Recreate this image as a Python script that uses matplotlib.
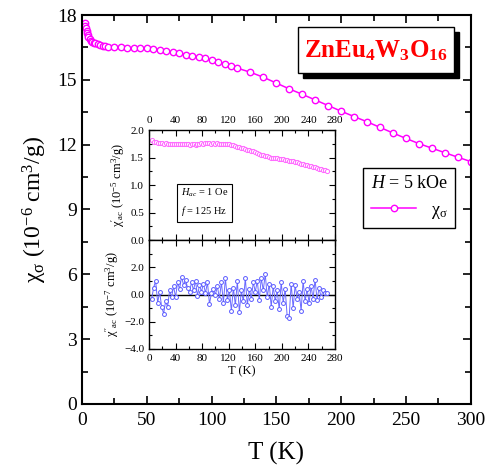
import matplotlib
matplotlib.use("Agg")
import matplotlib.pyplot as plt
from matplotlib.patches import Rectangle
from matplotlib.ticker import MultipleLocator

plt.rcParams['font.family'] = ['Liberation Serif', 'DejaVu Serif']
plt.rcParams['mathtext.fontset'] = 'custom'
plt.rcParams['mathtext.rm'] = 'Liberation Serif'
plt.rcParams['mathtext.it'] = 'Liberation Serif:italic'
plt.rcParams['mathtext.bf'] = 'Liberation Serif:bold'

# dc susceptibility, H = 5 kOe
T_dc = [2, 2.5, 3, 3.5, 4, 4.5, 5, 6, 7, 8, 9, 10, 12, 14, 16, 18, 20,
        25, 30, 35, 40, 45, 50, 55, 60, 65, 70, 75, 80, 85, 90, 95, 100,
        105, 110, 115, 120, 130, 140, 150, 160, 170, 180, 190, 200, 210,
        220, 230, 240, 250, 260, 270, 280, 290, 300]
chi_dc = [17.62, 17.5, 17.38, 17.27, 17.18, 17.08, 17.0, 16.9, 16.82, 16.76,
          16.72, 16.69, 16.64, 16.6, 16.57, 16.55, 16.53,
          16.51, 16.5, 16.49, 16.48, 16.47, 16.46, 16.43, 16.39, 16.34, 16.28,
          16.22, 16.17, 16.12, 16.06, 15.99, 15.91,
          15.82, 15.74, 15.65, 15.54, 15.35, 15.12, 14.85, 14.58, 14.33, 14.07,
          13.81, 13.55, 13.3, 13.06, 12.8, 12.54, 12.29, 12.05, 11.84, 11.63,
          11.42, 11.22]

# ac susceptibility (inset)
T_ac = [4, 7, 10, 13, 16, 19, 22, 25, 28, 31,
        34, 37, 40, 43, 46, 49, 52, 55, 58, 61,
        64, 67, 70, 73, 76, 79, 82, 85, 88, 91,
        94, 97, 100, 103, 106, 109, 112, 115, 118, 121,
        124, 127, 130, 133, 136, 139, 142, 145, 148, 151,
        154, 157, 160, 163, 166, 169, 172, 175, 178, 181,
        184, 187, 190, 193, 196, 199, 202, 205, 208, 211,
        214, 217, 220, 223, 226, 229, 232, 235, 238, 241,
        244, 247, 250, 253, 256, 259, 262, 265, 268]
chi_re = [1.81, 1.79, 1.78, 1.77, 1.76, 1.76, 1.75, 1.76, 1.75, 1.75,
          1.74, 1.75, 1.74, 1.75, 1.75, 1.74, 1.75, 1.74, 1.74, 1.73,
          1.74, 1.74, 1.73, 1.74, 1.75, 1.76, 1.75, 1.77, 1.77, 1.76,
          1.75, 1.76, 1.75, 1.76, 1.75, 1.75, 1.74, 1.75, 1.74, 1.74,
          1.73, 1.72, 1.71, 1.70, 1.69, 1.68, 1.67, 1.66, 1.64, 1.63,
          1.62, 1.61, 1.60, 1.58, 1.57, 1.55, 1.54, 1.53, 1.52, 1.51,
          1.50, 1.50, 1.49, 1.49, 1.48, 1.48, 1.47, 1.46, 1.45, 1.44,
          1.43, 1.43, 1.42, 1.41, 1.40, 1.39, 1.38, 1.37, 1.36, 1.35,
          1.34, 1.33, 1.32, 1.31, 1.30, 1.29, 1.28, 1.27, 1.26]
chi_im = [-0.3, 0.5, 1.0, -0.6, 0.2, -0.9, -1.4, -0.5, -0.9, 0.3,
          -0.2, 0.6, -0.2, 0.9, 0.4, 1.3, 0.7, 1.1, 0.5, 0.2,
          0.9, 0.3, 1.0, -0.1, 0.7, 0.2, 0.8, 0.1, 0.9, -0.7,
          0.1, 0.4, 0.0, 0.6, -0.3, 0.9, -0.6, 1.2, -0.4, 0.3,
          -1.2, 0.5, -0.8, 1.0, -1.3, 0.3, -0.5, 1.2, -0.8, 0.4,
          -0.3, 0.9, 0.2, 1.0, -0.4, 1.2, 0.3, 1.5, -0.2, 0.8,
          -0.9, 0.6, -0.5, 0.3, -1.1, 0.9, -0.6, 0.4, -1.6, -1.7,
          0.8, -1.0, 0.7, -0.3, 0.2, -1.2, 1.0, -0.5, 0.4, -0.6,
          0.6, -0.3, 1.1, -0.4, 0.5, -0.2, 0.3, 0.1, 0.1]

MAG = '#ff00ff'

fig = plt.figure(figsize=(4.86, 4.75), dpi=100)
ax = fig.add_axes([0.1687, 0.1495, 0.7998, 0.8189])
ax.plot(T_dc, chi_dc, '-o', color=MAG, mfc='white', mec=MAG, ms=4.6, mew=1.0, lw=1.1,
        label=r'$\mathrm{\chi_\sigma}$')
ax.set_xlim(0, 300)
ax.set_ylim(0, 18)
ax.xaxis.set_major_locator(MultipleLocator(50))
ax.xaxis.set_minor_locator(MultipleLocator(25))
ax.yaxis.set_major_locator(MultipleLocator(3))
ax.yaxis.set_minor_locator(MultipleLocator(1.5))
ax.tick_params(which='both', direction='in', top=True, right=True, labelsize=14, width=1.2)
ax.tick_params(which='major', length=6)
ax.tick_params(which='minor', length=4)
ax.tick_params(axis='x', pad=6)
for s in ax.spines.values():
    s.set_linewidth(1.5)
ax.set_xlabel('T (K)', fontsize=18, labelpad=9)
ax.set_ylabel(r'$\mathrm{\chi_\sigma}$ (10$^{-6}$ cm$^3$/g)', fontsize=17, labelpad=6)

leg = ax.legend(title=r'$H$ = 5 kOe', loc='upper right', bbox_to_anchor=(0.96, 0.606),
                borderaxespad=0, fancybox=False, edgecolor='black', fontsize=13,
                title_fontsize=13, handlelength=2.5, framealpha=1)
leg.get_frame().set_linewidth(1.0)

# title box with shadow
ax.add_patch(Rectangle((0.569, 0.839), 0.401, 0.118, transform=ax.transAxes,
                       facecolor='black', edgecolor='black', zorder=5))
ax.add_patch(Rectangle((0.556, 0.852), 0.401, 0.118, transform=ax.transAxes,
                       facecolor='white', edgecolor='black', lw=1.0, zorder=6))
ax.text(0.7565, 0.909, r'$\mathbf{ZnEu_4W_3O_{16}}$', transform=ax.transAxes,
        color='red', fontsize=18, ha='center', va='center', zorder=7)

# inset, upper: chi'
ax1 = fig.add_axes([0.3066, 0.4947, 0.3827, 0.2316])
ax1.plot(T_ac, chi_re, 'o', color='#ff66ff', mfc='white', mec='#ff66ff', ms=3.0, mew=0.7)
ax1.set_xlim(0, 280)
ax1.set_ylim(0, 2.0)
ax1.xaxis.set_major_locator(MultipleLocator(40))
ax1.xaxis.set_minor_locator(MultipleLocator(20))
ax1.yaxis.set_major_locator(MultipleLocator(0.5))
ax1.yaxis.set_minor_locator(MultipleLocator(0.25))
ax1.yaxis.set_major_formatter('{x:.1f}')
ax1.tick_params(which='both', direction='in', top=True, right=True, bottom=True,
                labeltop=True, labelbottom=False, labelsize=8, width=0.8)
ax1.tick_params(which='major', length=4)
ax1.tick_params(which='minor', length=2)
ax1.set_ylabel(r"$\mathrm{\chi'_{ac}}$ (10$^{-5}$ cm$^3$/g)", fontsize=9, labelpad=2)
ax1.text(0.17, 0.34, '$H_{ac}$ = 1 Oe\n$f$ = 125 Hz', transform=ax1.transAxes,
         fontsize=7.5, va='center', ha='left', linespacing=1.5,
         bbox=dict(boxstyle='square,pad=0.35', facecolor='white', edgecolor='black', lw=0.8))

# inset, lower: chi''
ax2 = fig.add_axes([0.3066, 0.2653, 0.3827, 0.2294])
ax2.axhline(0, color='black', lw=1.0)
ax2.plot(T_ac, chi_im, '-o', color='#6a6aff', mfc='white', mec='#5a5aff', ms=2.8, mew=0.7, lw=0.7)
ax2.set_xlim(0, 280)
ax2.set_ylim(-4, 4)
ax2.set_yticks([-4, -2, 0, 2])
ax2.yaxis.set_minor_locator(MultipleLocator(1))
ax2.yaxis.set_major_formatter('{x:.1f}')
ax2.xaxis.set_major_locator(MultipleLocator(40))
ax2.xaxis.set_minor_locator(MultipleLocator(20))
ax2.tick_params(which='both', direction='in', top=True, right=True, labelsize=8, width=0.8)
ax2.tick_params(which='major', length=4)
ax2.tick_params(which='minor', length=2)
ax2.set_ylabel(r"$\mathrm{\chi''_{ac}}$ (10$^{-7}$ cm$^3$/g)", fontsize=9, labelpad=2)
ax2.set_xlabel('T (K)', fontsize=9, labelpad=2)
for a in (ax1, ax2):
    for s in a.spines.values():
        s.set_linewidth(1.0)

fig.savefig('out.png', dpi=100)
